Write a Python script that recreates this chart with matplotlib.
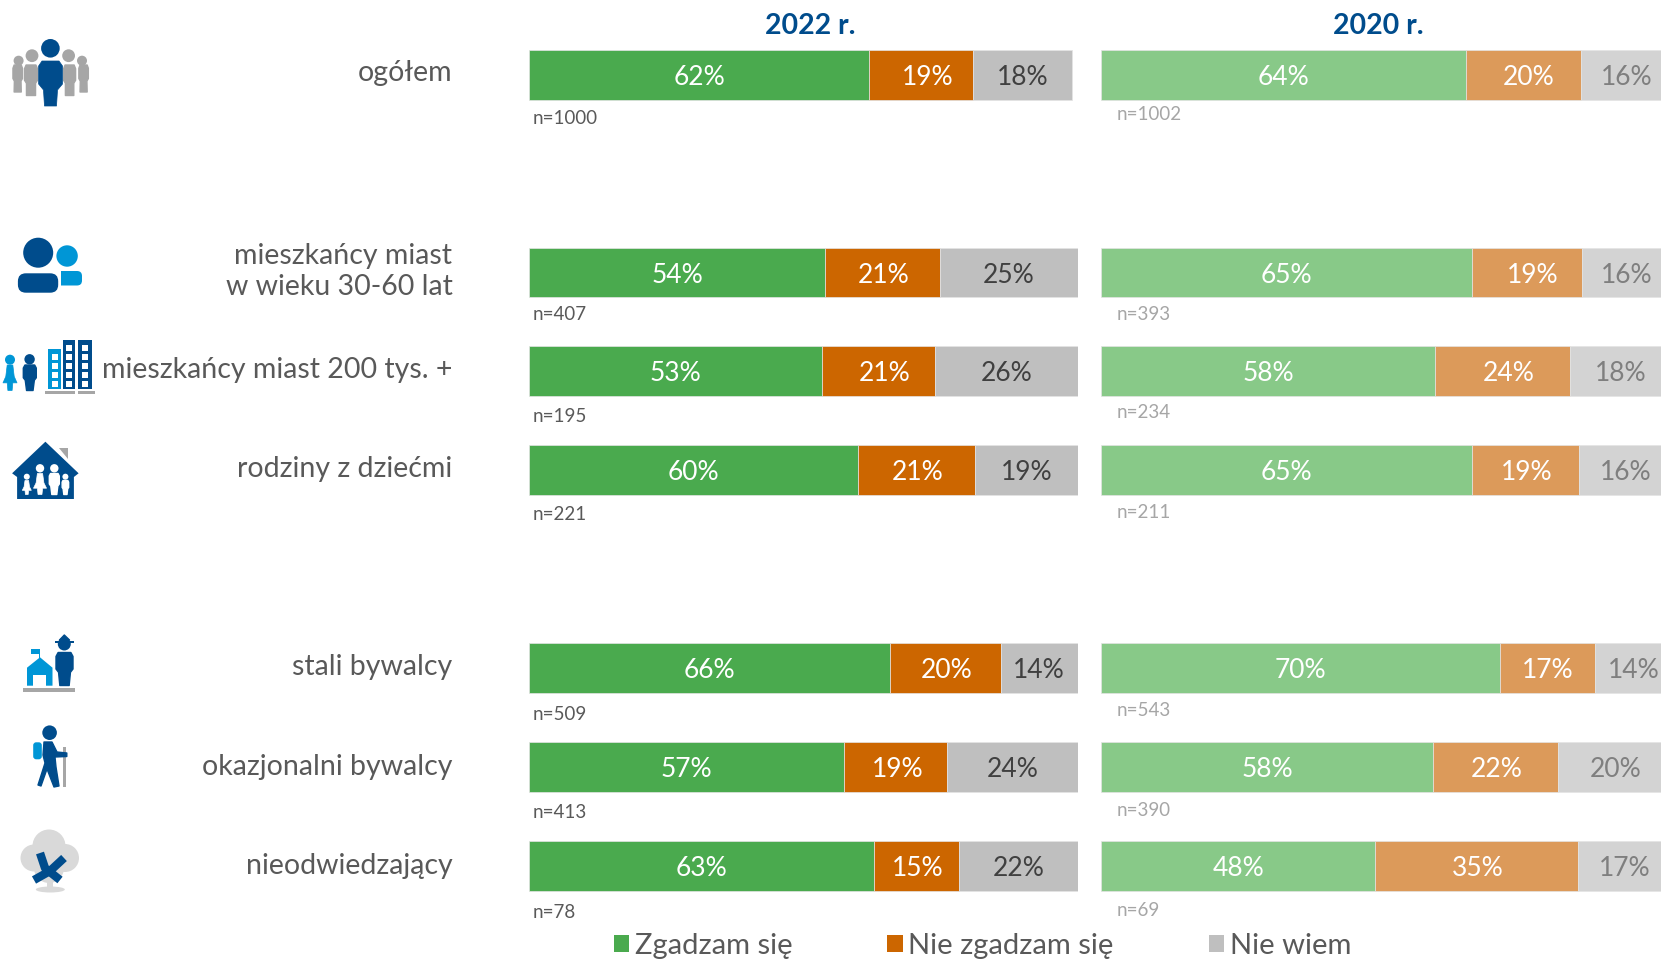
import matplotlib
matplotlib.use("Agg")
import matplotlib.pyplot as plt
from matplotlib.patches import Circle, Ellipse, Polygon, Rectangle, Patch, FancyBboxPatch

plt.rcParams['font.family'] = ['Lato', 'DejaVu Sans']

###########################################
# data

categories = ["ogółem", "mieszkańcy miast\nw wieku 30-60 lat", "mieszkańcy miast 200 tys. +",
              "rodziny z dziećmi", "stali bywalcy", "okazjonalni bywalcy", "nieodwiedzający"]
rows = [0, 2, 3, 4, 6, 7, 8]

agree_2022 = [62.0, 53.9, 53.3, 60.0, 65.8, 57.3, 62.9]
disagree_2022 = [18.9, 21.0, 20.7, 21.2, 20.1, 18.9, 15.4]
dunno_2022 = [18.1, 25.1, 26.0, 18.8, 14.1, 23.8, 21.7]
n_2022 = [1000, 407, 195, 221, 509, 413, 78]

agree_2020 = [63.8, 65.0, 58.4, 64.9, 69.8, 58.1, 48.0]
disagree_2020 = [20.2, 19.1, 23.7, 18.7, 16.7, 21.9, 35.4]
dunno_2020 = [16.0, 15.9, 17.9, 16.4, 13.6, 20.0, 16.6]
n_2020 = [1002, 393, 234, 211, 543, 390, 69]

legend_labels = ["Zgadzam się", "Nie zgadzam się", "Nie wiem"]

###########################################
# layout and colors

W, H = 1661, 960
colors_2022 = ["#4aaa4e", "#cc6600", "#bfbfbf"]
colors_2020 = ["#88c988", "#dc9a5a", "#d3d3d3"]
text_2022 = ["white", "white", "#404040"]
text_2020 = ["white", "white", "#7f7f7f"]
navy = "#004c8c"
sky = "#0096d6"
stone = "#a6a6a6"
ink = "#595959"

label_y = [73, None, 370, 469, 667, 767, 866]
n_gap_2022 = [18, 17, 19, 19, 20, 20, 21]
n_gap_2020 = [15, 16, 16, 16, 17, 17, 18]

# labels in the orange segments sit a little off centre
zero_nudge = [0] * 7
orange_nudge_2022 = [6, 1, 6, 1, 1, 2, 1]
orange_nudge_2020 = [5, 6, 6, 1, 0, 1, 1]

fig = plt.figure(figsize=(W / 100, H / 100), dpi=100)


def px_axes(left, right):
    # rows are 99px apart, first centred on y=75
    top = 75 - 49.7
    bottom = 866 + 49.3
    ax = fig.add_axes([left / W, 1 - bottom / H, (right - left) / W, (bottom - top) / H])
    ax.set_ylim(8.5, -0.5)
    ax.set_xlim(0, 100)
    ax.axis("off")
    return ax


def draw_bars(ax, series, colors, text_colors, nudges):
    left = [0] * len(rows)
    for values, c, tc, nudge in zip(series, colors, text_colors, nudges):
        ax.barh(rows, values, left=left, height=0.505, color=c, edgecolor="#e4e4e4", linewidth=0.5)
        for r, l, v, dx in zip(rows, left, values, nudge):
            ax.annotate("%.0f%%" % v, (l + v / 2, r), xytext=(dx * 0.72, -1.8), textcoords="offset points",
                        ha="center", va="center", color=tc, fontsize=19)
        left = [l + v for l, v in zip(left, values)]


ax_2022 = px_axes(529.2, 1077.9)
ax_2020 = px_axes(1101.3, 1672.3)
draw_bars(ax_2022, [agree_2022, disagree_2022, dunno_2022], colors_2022, text_2022,
          [zero_nudge, orange_nudge_2022, zero_nudge])
draw_bars(ax_2020, [agree_2020, disagree_2020, dunno_2020], colors_2020, text_2020,
          [zero_nudge, orange_nudge_2020, zero_nudge])

###########################################
# overlay in pixel coordinates for texts and icons

ov = fig.add_axes([0, 0, 1, 1], zorder=5)
ov.set_xlim(0, W)
ov.set_ylim(H, 0)
ov.axis("off")
ov.patch.set_alpha(0)

ov.text(810, 26.5, "2022 r.", ha="center", va="center", color=navy, fontsize=20.5, fontweight="bold")
ov.text(1378, 26.5, "2020 r.", ha="center", va="center", color=navy, fontsize=20.5, fontweight="bold")

for name, y in zip(categories, label_y):
    if y is None:
        ov.text(452.5, 271.5, name, ha="right", va="center", color=ink, fontsize=20.5, linespacing=1.22)
    else:
        ov.text(452.5, y, name, ha="right", va="center", color=ink, fontsize=20.5)

for r, n, g1, g2 in zip(rows, n_2022, n_gap_2022, n_gap_2020):
    n2 = n_2020[rows.index(r)]
    bar_bottom = 75 + 99 * r + 25
    ov.text(533, bar_bottom + g1, "n=%d" % n, ha="left", va="center", color=ink, fontsize=13.5)
    ov.text(1116.5, bar_bottom + g2, "n=%d" % n2, ha="left", va="center", color=stone, fontsize=13.5)

handles = [Patch(facecolor=c, label=l) for c, l in zip(colors_2022, legend_labels)]
fig.legend(handles=handles, loc="center", bbox_to_anchor=(982.5 / W, 1 - 946 / H), ncol=3, frameon=False,
           fontsize=21, handlelength=0.52, handleheight=0.52, handletextpad=0.2, columnspacing=3.25,
           borderpad=0, labelcolor=ink)


###########################################
# icons

def circ(x, y, r, c):
    ov.add_patch(Circle((x, y), r, fc=c, ec="none"))


def rect(x0, y0, x1, y1, c):
    ov.add_patch(Rectangle((x0, y0), x1 - x0, y1 - y0, fc=c, ec="none"))


def poly(pts, c, lw=0):
    ov.add_patch(Polygon(pts, closed=True, fc=c, ec=c if lw else "none", lw=lw, joinstyle="round"))


def body(cx, top, bottom, w, c, feet=0.5):
    # rounded torso tapering to the feet
    h = bottom - top
    hw = w / 2
    poly([(cx - hw * 0.75, top), (cx + hw * 0.75, top), (cx + hw, top + 0.12 * h), (cx + hw, top + 0.5 * h),
          (cx + hw * 0.7, top + 0.6 * h), (cx + hw * feet, bottom), (cx - hw * feet, bottom),
          (cx - hw * 0.7, top + 0.6 * h), (cx - hw, top + 0.5 * h), (cx - hw, top + 0.12 * h)], c, lw=1)


def dress(cx, top, bottom, w, c):
    h = bottom - top
    hw = w / 2
    poly([(cx - hw * 0.4, top), (cx + hw * 0.4, top), (cx + hw * 0.6, top + 0.45 * h), (cx + hw, top + 0.7 * h),
          (cx + hw * 0.4, top + 0.7 * h), (cx + hw * 0.3, bottom), (cx - hw * 0.3, bottom),
          (cx - hw * 0.4, top + 0.7 * h), (cx - hw, top + 0.7 * h), (cx - hw * 0.6, top + 0.45 * h)], c, lw=0.5)


def rounded(x0, y0, x1, y1, rad, c):
    ov.add_patch(FancyBboxPatch((x0, y0), x1 - x0, y1 - y0, boxstyle="round,pad=0,rounding_size=%g" % rad,
                                fc=c, ec="none"))


# ogolem
circ(18.6, 60.7, 5, stone)
circ(82, 60.7, 5, stone)
body(17.7, 65, 92, 9.5, stone, feet=0.75)
body(83.6, 65, 92, 9.5, stone, feet=0.75)
circ(32, 55.7, 6.4, stone)
circ(68.6, 55.7, 6.4, stone)
body(31, 65, 95.5, 13, stone, feet=0.7)
body(69.6, 65, 95.5, 12, stone, feet=0.7)
circ(50.4, 48.3, 9.3, navy)
poly([(38.6, 66), (42, 61), (59, 61), (62.5, 66), (62.5, 84), (57.5, 90), (56.5, 106), (44.5, 106), (43.5, 90), (38.6, 84)],
     navy, lw=0.5)

# miasta 30-60
circ(67.1, 256, 10.7, sky)
rounded(56.4, 271, 82, 285.5, 5, sky)
circ(38.2, 252.7, 15, navy)
ov.add_patch(Rectangle((52, 268), 9, 22, fc="white", ec="none"))
rounded(17.9, 273.3, 58.2, 292.7, 8, navy)

# miasta 200 tys
circ(10, 359.7, 5, sky)
dress(10, 365, 390.5, 14, sky)
circ(29.6, 359.3, 5.2, navy)
body(29.8, 365, 390.5, 13, navy)
rect(47.9, 349, 60.7, 389, sky)
rect(62.5, 340, 75.4, 389, navy)
rect(77.5, 340, 91.8, 389, navy)
for i in range(4):
    rect(51.5, 354 + i * 9, 57.5, 360 + i * 9, "white")
for i in range(5):
    rect(66, 345 + i * 9, 72, 351 + i * 9, "white")
    rect(81.5, 345 + i * 9, 87.5, 351 + i * 9, "white")
rect(45, 391, 75, 393.7, stone)
rect(77.9, 391, 95, 393.7, stone)

# rodziny
poly([(59, 448.3), (68.2, 448.3), (68.2, 459.3)], stone)
poly([(45.4, 441.7), (78.6, 473.3), (73.9, 477), (73.9, 499), (17.1, 499), (17.1, 477), (12.1, 473.3)], navy)
circ(26.8, 476.7, 3, "white")
dress(26.8, 480.5, 494.5, 9, "white")
circ(40, 468.3, 4.2, "white")
dress(40, 473.5, 494.5, 13, "white")
circ(54.3, 468.3, 4.2, "white")
body(54.3, 473.5, 494.5, 10, "white")
circ(65.4, 476.7, 3, "white")
body(65.4, 480.5, 494.5, 6.5, "white")

# stali bywalcy
poly([(40, 657.3), (52.5, 667.7), (52.5, 685.7), (27, 685.7), (27, 667.7)], sky)
rect(32.9, 675, 46.4, 685.7, "white")
rect(38.6, 649, 40, 658, sky)
rect(31, 649, 40, 654.3, sky)
circ(64.3, 644, 6.5, navy)
rect(54.6, 640.8, 74, 642.6, navy)
poly([(59.5, 640), (64.3, 635), (69.5, 640)], navy, lw=1)
body(64.5, 652.5, 685.5, 17, navy, feet=0.55)
rect(22.5, 688.3, 75, 692, stone)

# okazjonalni
rounded(33.2, 742.3, 41.8, 759.3, 3, sky)
rect(63, 746.7, 65.7, 787, stone)
circ(49.6, 732.7, 7.3, navy)
poly([(44, 742), (52, 742), (57, 752), (66.8, 753), (66.8, 756.5), (55, 757), (56, 767), (59, 786), (54, 787),
      (47, 769), (41, 786), (38, 785), (45, 763), (43, 755)], navy, lw=1)

# nieodwiedzajacy
tree = "#d9d9d9"
circ(49, 846, 16.5, tree)
circ(34, 858, 13.5, tree)
circ(65, 858, 14, tree)
circ(49, 868, 15, tree)
rect(46.5, 875, 52.5, 888, tree)
ov.add_patch(Ellipse((50.3, 889.5), 29, 6, fc=tree, ec="none"))
ov.plot([40, 45, 60], [853, 868, 880], color=navy, lw=6, solid_capstyle="butt")
ov.plot([64, 50, 34], [858, 871, 880], color=navy, lw=6, solid_capstyle="butt")

fig.savefig("out.png", dpi=100)
